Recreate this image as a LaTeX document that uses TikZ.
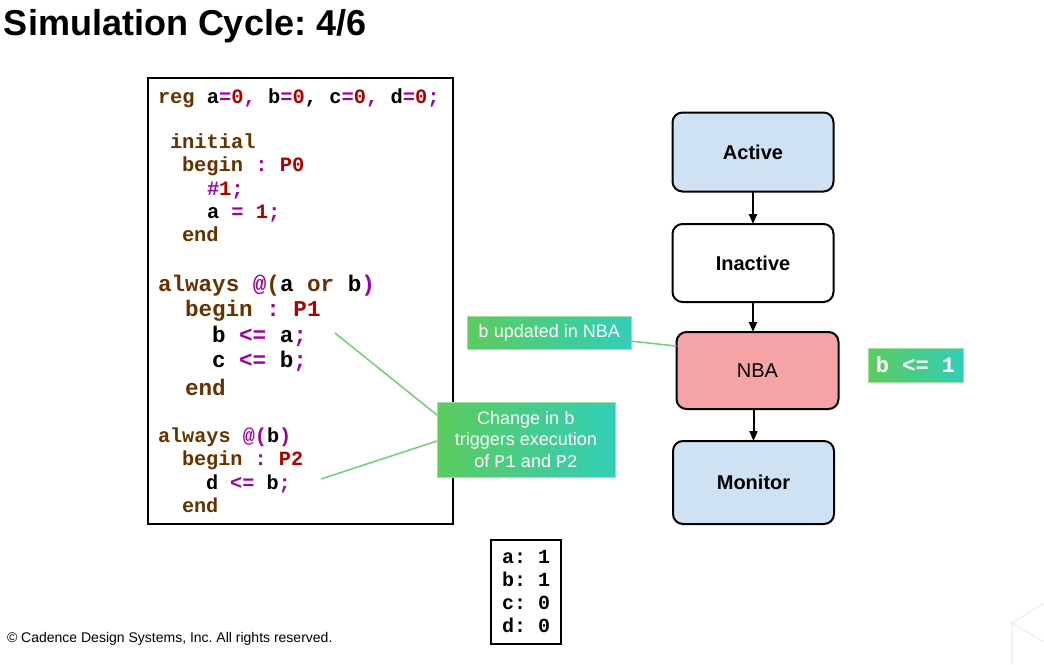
\documentclass[tikz,border=0pt]{standalone}
\usepackage{fontspec}
\setmainfont{Liberation Sans}
\setmonofont{Liberation Mono}
\usetikzlibrary{arrows.meta}
\frenchspacing
\definecolor{kwcol}{HTML}{663300}
\definecolor{opcol}{HTML}{A000A0}
\definecolor{numcol}{HTML}{B00000}
\definecolor{stageblue}{HTML}{CFE2F3}
\definecolor{stagered}{HTML}{F6A3A6}
\definecolor{taggreen}{HTML}{5DCB5E}
\definecolor{tagteal}{HTML}{33CDB8}
\definecolor{calloutgreen}{HTML}{6ED36E}
\newcommand\kw[1]{\textcolor{kwcol}{#1}}
\newcommand\op[1]{\textcolor{opcol}{#1}}
\newcommand\nm[1]{\textcolor{numcol}{#1}}
\begin{document}
\begin{tikzpicture}[x=1pt,y=-1pt,inner sep=0pt,outer sep=0pt,
stage/.style={draw,rounded corners=10pt,line width=2pt,minimum width=161pt,minimum height=79pt,font=\fontsize{20}{24}\selectfont\bfseries},
codeline/.style={anchor=base west,font=\fontsize{#1}{#1}\selectfont\ttfamily\bfseries},
tag/.style={left color=taggreen,right color=tagteal,draw=taggreen!60!white,line width=1pt,text=white,font=\fontsize{18}{21.5}\selectfont},
callout/.style={calloutgreen,line width=1.5pt},
flow/.style={line width=2pt,-{Triangle[length=10pt,width=8pt]}}]
\path[fill=white,use as bounding box] (0,0) rectangle (1044,664);

\node[anchor=base west,font=\fontsize{36}{40}\selectfont\bfseries] (title) at (4,35) {Simulation Cycle: 4/6};

\node[draw,line width=2pt,minimum width=305pt,minimum height=446pt] (code) at (300.5,301) {};
\node[codeline=20.4] (c1) at (158,103) {\kw{reg} a\op{=}\nm{0}\op{,} b\op{=}\nm{0}, c\op{=}\nm{0}\op{,} d\op{=}\nm{0}\op{;}};
\node[codeline=20.4] (c2) at (170,148) {\kw{initial}};
\node[codeline=20.4] (c3) at (182,171) {\kw{begin} \op{:} \nm{P0}};
\node[codeline=20.4] (c4) at (207,195) {\op{\#}\nm{1}\op{;}};
\node[codeline=20.4] (c5) at (207,218) {a \op{=} \nm{1}\op{;}};
\node[codeline=20.4] (c6) at (182,241) {\kw{end}};
\node[codeline=22.6] (c7) at (158,291) {\kw{always} \op{@}\kw{(}a \kw{or} b\op{)}};
\node[codeline=22.6] (c8) at (185,316) {\kw{begin} \op{:} \nm{P1}};
\node[codeline=22.6] (c9) at (212,342) {b \op{<=} a\op{;}};
\node[codeline=22.6] (c10) at (212,367) {c \op{<=} b\op{;}};
\node[codeline=22.6] (c11) at (185,395) {\kw{end}};
\node[codeline=20.2] (c12) at (158,442) {\kw{always} \op{@(}b\op{)}};
\node[codeline=20.2] (c13) at (182,465) {\kw{begin} \op{:} \nm{P2}};
\node[codeline=20.2] (c14) at (206,489) {d \op{<=} b\op{;}};
\node[codeline=20.2] (c15) at (182,512) {\kw{end}};

\node[stage,fill=stageblue] (active) at (753,152) {Active};
\node[stage,minimum height=78pt] (inactive) at (753,263) {Inactive};
\node[stage,fill=stagered,minimum height=77pt,minimum width=162pt,font=\fontsize{20}{24}\selectfont] (nba) at (757.5,370.5) {NBA};
\node[stage,fill=stageblue,minimum height=83pt] (monitor) at (753.5,482.5) {Monitor};
\draw[flow] (active) -- (inactive);
\draw[flow] (inactive) -- (inactive.south |- nba.north);
\draw[flow] (monitor.north |- nba.south) -- (monitor);

\node[tag,minimum width=164pt,minimum height=33pt] (upd) at (549,332.5) {{\ttfamily b} updated in NBA};
\draw[callout] (upd) -- ([yshift=24.5pt]nba.west);
\node[tag,minimum width=95pt,minimum height=34pt,font=\fontsize{22}{24}\selectfont\ttfamily\bfseries] (assign) at (915.5,365) {b <= 1};
\node[tag,minimum width=178pt,minimum height=75pt,align=center] (chg) at (526,439.5) {Change in {\ttfamily b}\\triggers execution\\of {\ttfamily P1} and {\ttfamily P2}};
\coordinate (p1end) at (335,333);
\coordinate (p2end) at (321,479);
\draw[callout] (p1end) -- ([yshift=24.5pt]chg.west);
\draw[callout] (p2end) -- ([yshift=-1.5pt]chg.west);

\node[draw,line width=1.5pt,minimum width=70pt,minimum height=104pt,align=left,font=\fontsize{20}{23}\selectfont\ttfamily\bfseries] (vals) at (526,592) {a: 1\\b: 1\\c: 0\\d: 0};

\node[anchor=base west,font=\fontsize{14}{16}\selectfont] (copy) at (7,642) {© Cadence Design Systems, Inc. All rights reserved.};
\draw[black!7,line width=1.2pt] (1044,603) -- (1012,623) -- (1044,642) (1012,623) -- (1012,664);
\end{tikzpicture}
\end{document}
